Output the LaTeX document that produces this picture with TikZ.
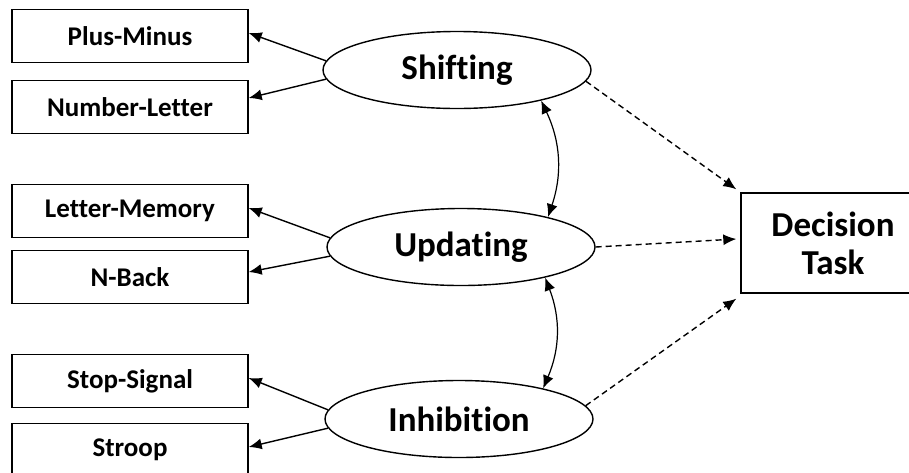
\documentclass[tikz,border=0pt]{standalone}
\usepackage{fontspec}
\setmainfont[Ligatures=NoCommon]{Carlito}
\usetikzlibrary{shapes.geometric,arrows.meta}

\tikzset{
    taskbox/.style={draw, line width=1.4pt, minimum width=236pt, minimum height=53pt,
        inner sep=0pt, font=\fontsize{27}{30}\selectfont\bfseries},
    factor/.style={draw, ellipse, line width=1.4pt, minimum width=268pt, minimum height=77pt,
        inner sep=0pt, font=\fontsize{35}{40}\selectfont\bfseries},
    loading/.style={-{Latex[length=13pt,width=11pt]}, line width=1.4pt},
    corr/.style={{Latex[length=13pt,width=11pt]}-{Latex[length=13pt,width=11pt]}, line width=1.2pt},
    effect/.style={-{Latex[length=13pt,width=11pt]}, line width=1.4pt, dash pattern=on 6pt off 4pt}
}

\begin{document}
\begin{tikzpicture}[x=1pt, y=-1pt]
    \useasboundingbox (0,0) rectangle (909,472);

    % Task boxes
    \node[taskbox] (pm) at (130,36) {Plus-Minus};
    \node[taskbox] (nl) at (130,107) {Number-Letter};
    \node[taskbox] (lm) at (130,211) {Letter-Memory};
    \node[taskbox] (nb) at (130,277) {N-Back};
    \node[taskbox] (ss) at (130,381) {Stop-Signal};
    \node[taskbox] (st) at (130,450) {Stroop};

    % Latent factors
    \node[factor] (shift) at (457,70) {Shifting};
    \node[factor] (upd) at (461,247) {Updating};
    \node[factor] (inh) at (459,419) {Inhibition};

    % Outcome
    \node[draw, line width=1.4pt, minimum width=184pt, minimum height=100pt, align=center,
        font=\fontsize{35}{42}\selectfont\bfseries] (dt) at (833,243) {\raisebox{-4pt}{Decision}\\Task};

    % Loadings
    \draw[loading] (shift.176) -- ([yshift=3pt]pm.east);
    \draw[loading] (shift.184) -- ([yshift=9pt]nl.east);
    \draw[loading] (upd.176) -- ([yshift=3pt]lm.east);
    \draw[loading] (upd.184) -- ([yshift=5pt]nb.east);
    \draw[loading] (inh.176) -- ([yshift=3pt]ss.east);
    \draw[loading] (inh.184) -- ([yshift=3pt]st.east);

    % Correlations
    \draw[corr] (shift.340) to[bend left=22] (upd.19);
    \draw[corr] (upd.340) to[bend left=22] (inh.20);

    % Paths to decision task
    \draw[effect] (shift.355) -- ([xshift=-4pt,yshift=3pt]dt.north west);
    \draw[effect] (upd.east) -- ([xshift=-4pt,yshift=4pt]dt.west);
    \draw[effect] (inh.6) -- ([xshift=-4pt,yshift=-5pt]dt.south west);
\end{tikzpicture}
\end{document}
